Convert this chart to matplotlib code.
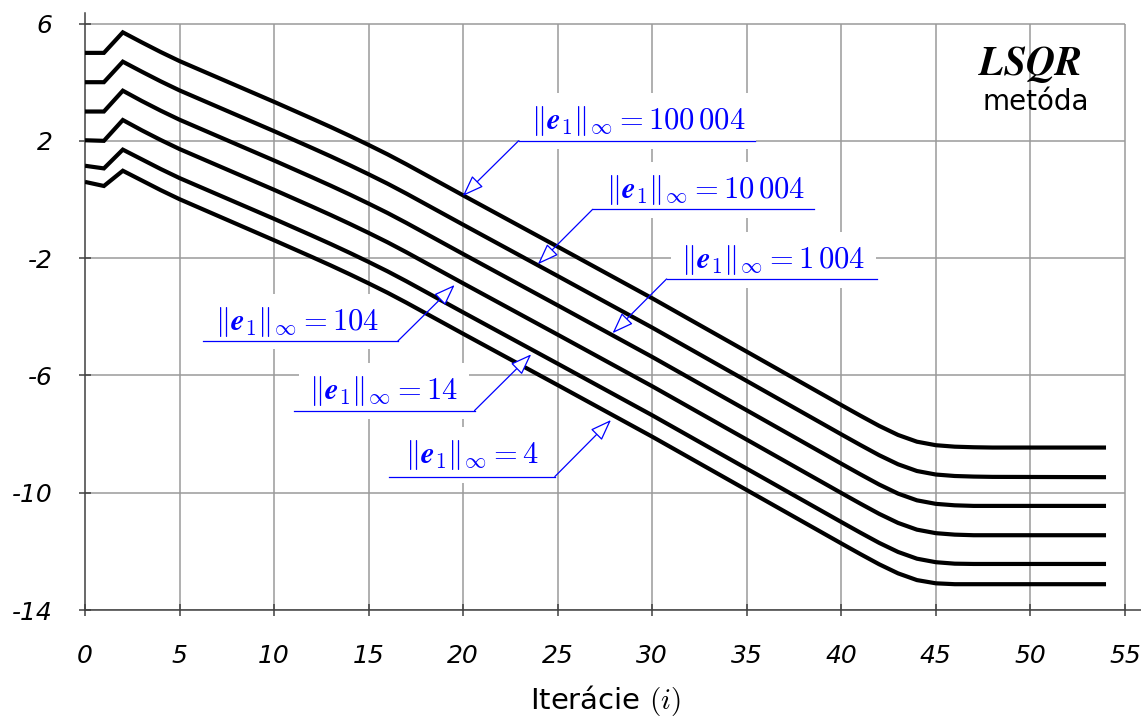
import matplotlib
matplotlib.use('Agg')
import matplotlib.pyplot as plt

# iteracie a log10 normy rezidua pre LSQR, 6 roznych chyb e1
iteracie = [0, 1, 2, 3, 4, 5, 10, 12, 13, 14, 15, 16, 17, 20, 25, 30, 35, 40, 41, 42, 43, 44, 45, 46, 47, 48, 54]

r_100004 = [5.00, 5.00, 5.70, 5.36, 5.03, 4.72, 3.33, 2.76, 2.47, 2.17, 1.86, 1.54, 1.20, 0.14, -1.61, -3.37, -5.19,
            -7.01, -7.37, -7.72, -8.03, -8.26, -8.38, -8.43, -8.45, -8.46, -8.46]
r_10004 = [4.00, 4.00, 4.70, 4.36, 4.03, 3.72, 2.33, 1.76, 1.47, 1.17, 0.86, 0.54, 0.20, -0.86, -2.61, -4.37, -6.19,
           -8.01, -8.37, -8.72, -9.03, -9.26, -9.38, -9.43, -9.45, -9.46, -9.47]
r_1004 = [3.00, 3.00, 3.71, 3.36, 3.03, 2.72, 1.33, 0.76, 0.47, 0.17, -0.14, -0.46, -0.80, -1.86, -3.61, -5.37, -7.19,
          -9.01, -9.37, -9.72, -10.03, -10.26, -10.38, -10.43, -10.45, -10.45, -10.45]
r_104 = [2.02, 2.00, 2.71, 2.36, 2.03, 1.72, 0.33, -0.24, -0.53, -0.83, -1.14, -1.46, -1.80, -2.86, -4.61, -6.37, -8.19,
         -10.01, -10.37, -10.72, -11.03, -11.26, -11.38, -11.43, -11.45, -11.45, -11.45]
r_14 = [1.15, 1.06, 1.70, 1.37, 1.04, 0.73, -0.66, -1.23, -1.52, -1.82, -2.13, -2.45, -2.79, -3.85, -5.60, -7.36, -9.18,
        -11.00, -11.36, -11.71, -12.02, -12.25, -12.37, -12.42, -12.43, -12.43, -12.43]
r_4 = [0.60, 0.46, 0.98, 0.65, 0.32, 0.01, -1.39, -1.96, -2.25, -2.55, -2.86, -3.18, -3.52, -4.58, -6.33, -8.09, -9.91,
       -11.73, -12.09, -12.44, -12.75, -12.98, -13.09, -13.12, -13.12, -13.12, -13.12]

serie = [r_100004, r_10004, r_1004, r_104, r_14, r_4]
popisy = [r'100\,004', r'10\,004', r'1\,004', '104', '14', '4']

x_ticky = [0, 5, 10, 15, 20, 25, 30, 35, 40, 45, 50, 55]
y_ticky = [6, 2, -2, -6, -10, -14]

plt.rcParams['mathtext.fontset'] = 'cm'
plt.rcParams['axes.unicode_minus'] = False

fig = plt.figure(figsize=(11.41, 7.26), dpi=100)
ax = fig.add_axes([85 / 1141, 116 / 726, 1056 / 1141, 597.3 / 726])
ax.set_xlim(0, 55.85)
ax.set_ylim(-14, 6.37)

# mriezka len v ramci 0..55, -14..6
ax.vlines(x_ticky[1:], -14, 6, color='#9a9a9a', lw=1.1, zorder=1)
ax.hlines(y_ticky, 0, 55, color='#9a9a9a', lw=1.1, zorder=1)

for s in serie:
    ax.plot(iteracie, s, color='black', lw=3, solid_joinstyle='miter', solid_capstyle='butt', zorder=3)

ax.spines['top'].set_visible(False)
ax.spines['right'].set_visible(False)
for sp in ['left', 'bottom']:
    ax.spines[sp].set_color('#404040')
    ax.spines[sp].set_linewidth(1.1)
    ax.spines[sp].set_zorder(2)

ax.set_xticks(x_ticky)
ax.set_yticks(y_ticky)
ax.set_yticklabels([str(v) for v in y_ticky])
ax.tick_params(axis='both', direction='inout', length=9, width=1.1, color='#404040', labelsize=18)
ax.tick_params(axis='y', pad=19)
ax.tick_params(axis='x', pad=20)
for lbl in ax.get_xticklabels() + ax.get_yticklabels():
    lbl.set_style('italic')

# popisky: (text x, text y, ciara x0, x1, y, hrot, zaciatok sipky)
popisky_pos = [
    (29.25, 2.68, 22.93, 35.45, 2.0, (19.98, 0.12), 'l'),
    (32.8, 0.32, 26.85, 38.56, -0.335, (23.95, -2.21), 'l'),
    (36.41, -2.06, 30.76, 41.9, -2.71, (27.9, -4.56), 'l'),
    (11.23, -4.17, 6.22, 16.55, -4.825, (19.55, -2.915), 'r'),
    (15.81, -6.53, 11.06, 20.6, -7.2, (23.6, -5.28), 'r'),
    (20.44, -8.71, 16.08, 24.85, -9.45, (27.82, -7.52), 'r'),
]
for p, (tx, ty, x0, x1, uy, tip, side) in zip(popisy, popisky_pos):
    ax.text(tx, ty, r'$\Vert\boldsymbol{e}_1\Vert_\infty = %s$' % p, color='blue', fontsize=22,
            ha='center', va='center', zorder=2.5,
            bbox=dict(boxstyle='square,pad=0.35', fc='white', ec='none'))
    ax.plot([x0, x1], [uy, uy], color='blue', lw=0.9, zorder=4)
    start = (x0, uy) if side == 'l' else (x1, uy)
    ax.annotate('', xy=tip, xytext=start, zorder=4,
                arrowprops=dict(arrowstyle='-|>,head_length=0.6,head_width=0.22', fc='white', ec='blue',
                                lw=0.9, mutation_scale=22, shrinkA=0, shrinkB=0))

ax.text(50, 4.62, r'$\boldsymbol{LSQR}$', fontsize=29, ha='center', va='center')
ax.text(50.3, 3.32, 'metóda', fontsize=20, ha='center', va='center')

fig.text(605 / 1141, 1 - 701 / 726, 'Iterácie $(i)$', fontsize=21, ha='center', va='center')

fig.savefig('out.png', dpi=100)
